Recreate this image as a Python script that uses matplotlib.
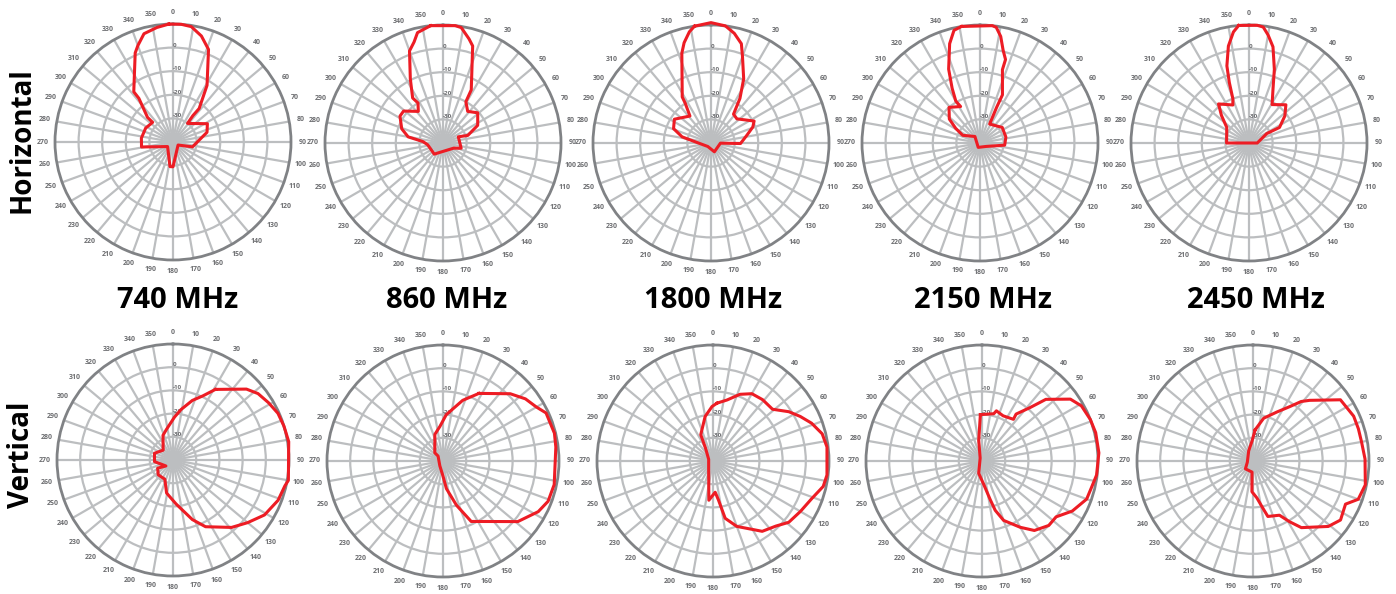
import numpy as np, matplotlib; matplotlib.use("Agg")
import matplotlib.pyplot as plt

plt.rcParams['font.family'] = ['Open Sans', 'DejaVu Sans']

freqs = ["740 MHz", "860 MHz", "1800 MHz", "2150 MHz", "2450 MHz"]
rows = ["Horizontal", "Vertical"]

# horizontal plane patterns: angle (deg, clockwise from top), normalised radius
h740_th = [358, 4, 9, 15, 21, 31, 38, 37, 38, 62, 74, 104, 121, 180, 187, 230, 261, 277, 297, 314, 314, 322, 322, 337, 340, 345, 352]
h740_r = [1.0, 1.0, 0.99, 0.93, 0.84, 0.56, 0.36, 0.28, 0.20, 0.33, 0.30, 0.17, 0.05, 0.21, 0.21, 0.06, 0.27, 0.27, 0.26, 0.24, 0.30, 0.47, 0.54, 0.82, 0.87, 0.95, 0.98]
h860_th = [354, 6, 9, 14, 17, 28, 29, 38, 49, 63, 73, 68, 106, 116, 210, 218, 263, 274, 280, 289, 302, 309, 322, 328, 326, 333, 340, 344, 347]
h860_r = [1.0, 1.0, 0.99, 0.91, 0.86, 0.51, 0.40, 0.34, 0.39, 0.33, 0.22, 0.14, 0.16, 0.10, 0.10, 0.12, 0.13, 0.17, 0.30, 0.37, 0.43, 0.43, 0.34, 0.40, 0.46, 0.61, 0.83, 0.89, 0.96]
h1800_th = [352, 0, 7, 12, 17, 20, 27, 33, 38, 47, 63, 69, 78, 91, 91, 159, 222, 275, 282, 291, 303, 322, 327, 328, 342, 345, 349]
h1800_r = [1.0, 1.02, 1.0, 0.95, 0.88, 0.78, 0.61, 0.45, 0.31, 0.30, 0.41, 0.38, 0.31, 0.25, 0.08, 0.08, 0.04, 0.14, 0.25, 0.34, 0.37, 0.29, 0.40, 0.46, 0.80, 0.88, 0.96]
h2150_th = [351, 6, 8, 11, 14, 17, 17, 25, 25, 27, 55, 77, 95, 119, 202, 322, 294, 301, 308, 319, 332, 330, 333, 337, 343, 347]
h2150_r = [1.0, 1.0, 0.99, 0.92, 0.81, 0.74, 0.65, 0.45, 0.33, 0.18, 0.23, 0.225, 0.21, 0.06, 0.04, 0.07, 0.16, 0.24, 0.33, 0.40, 0.35, 0.41, 0.52, 0.68, 0.88, 0.98]
h2450_th = [355, 4, 7, 10, 14, 19, 24, 31, 44, 53, 63, 62, 90, 270, 305, 315, 322, 337, 340, 342, 344, 348, 352]
h2450_r = [1.0, 1.0, 0.99, 0.93, 0.84, 0.66, 0.50, 0.38, 0.45, 0.38, 0.29, 0.17, 0.07, 0.19, 0.23, 0.33, 0.42, 0.35, 0.40, 0.54, 0.68, 0.84, 0.95]

# vertical plane patterns
v740_th = [31, 46, 52, 59, 66, 73, 81, 100, 103, 111, 121, 130, 139, 154, 162, 176, 191, 203, 225, 242, 230, 265, 290, 315, 338, 348, 2, 9, 18, 25]
v740_r = [0.71, 0.88, 0.93, 0.96, 0.99, 1.0, 1.01, 1.01, 0.99, 0.97, 0.92, 0.84, 0.77, 0.64, 0.54, 0.38, 0.29, 0.18, 0.18, 0.15, 0.08, 0.16, 0.17, 0.12, 0.23, 0.27, 0.37, 0.44, 0.54, 0.61]
v860_th = [28, 45, 53, 60, 65, 76, 83, 102, 111, 118, 129, 155, 163, 173, 180, 213, 315, 315, 343, 355, 4, 18]
v860_r = [0.66, 0.82, 0.89, 0.93, 0.98, 0.99, 0.98, 0.98, 0.97, 0.93, 0.83, 0.575, 0.40, 0.24, 0.13, 0.05, 0.06, 0.10, 0.24, 0.30, 0.40, 0.55]
v1800_th = [4, 13, 22, 30, 39, 49, 57, 63, 69, 76, 83, 97, 103, 111, 120, 129, 136, 145, 160, 168, 172, 176, 186, 208, 291, 330, 335, 350, 359]
v1800_r = [0.50, 0.54, 0.62, 0.67, 0.68, 0.68, 0.78, 0.845, 0.91, 0.97, 0.99, 0.99, 0.975, 0.91, 0.87, 0.84, 0.78, 0.74, 0.60, 0.505, 0.34, 0.27, 0.34, 0.08, 0.04, 0.13, 0.25, 0.39, 0.47]
v2150_th = [358, 14, 16, 25, 37, 36, 42, 46, 55, 61, 69, 76, 86, 97, 104, 110, 119, 127, 134, 143, 150, 160, 165, 168, 176, 195, 328, 351]
v2150_r = [0.40, 0.42, 0.45, 0.43, 0.45, 0.50, 0.62, 0.765, 0.93, 0.98, 1.0, 1.01, 1.01, 0.995, 0.97, 0.96, 0.89, 0.80, 0.80, 0.75, 0.66, 0.545, 0.44, 0.34, 0.20, 0.11, 0.03, 0.18]
v2450_th = [4, 14, 26, 34, 39, 43, 55, 62, 66, 73, 80, 89, 102, 110, 115, 124, 131, 144, 149, 154, 165, 168, 174, 182, 185, 224, 258, 337, 357]
v2450_r = [0.27, 0.38, 0.47, 0.565, 0.66, 0.715, 0.92, 0.935, 0.95, 0.95, 0.95, 0.966, 0.99, 0.965, 0.88, 0.91, 0.86, 0.71, 0.61, 0.52, 0.495, 0.42, 0.32, 0.265, 0.096, 0.094, 0.05, 0.095, 0.17]

patterns = [[(h740_th, h740_r), (h860_th, h860_r), (h1800_th, h1800_r), (h2150_th, h2150_r), (h2450_th, h2450_r)],
            [(v740_th, v740_r), (v860_th, v860_r), (v1800_th, v1800_r), (v2150_th, v2150_r), (v2450_th, v2450_r)]]

W, H = 1396, 594
fig = plt.figure(figsize=(W/100, H/100), dpi=100)
centres = [[(173, 142), (443, 143), (711, 143), (980, 143), (1249, 143)],
           [(173, 460), (443, 461), (713, 461), (982, 461), (1253, 461)]]
radius = [118, 116]
grid_c = "#bcbec0"; edge_c = "#808285"; lab_c = "#6d6e71"; red = "#ed1c24"

for i in range(2):
    R = radius[i]
    for j in range(5):
        cx, cy = centres[i][j]
        ax = fig.add_axes([(cx-R)/W, 1-(cy+R)/H, 2*R/W, 2*R/H], projection="polar")
        ax.set_theta_zero_location("N"); ax.set_theta_direction(-1)
        ax.set_ylim(0, 1)
        ax.set_thetagrids(np.arange(0, 360, 10), [str(a) for a in range(0, 360, 10)],
                          fontsize=5, fontweight="bold", color=lab_c)
        ax.tick_params(axis="x", pad=-2)
        ax.set_rgrids([0.2, 0.4, 0.6, 0.8], ["-30", "-20", "-10", "0"], angle=0,
                      fontsize=4.5, fontweight="bold", color=lab_c)
        ax.grid(True, color=grid_c, lw=1.6)
        ax.spines["polar"].set_color(edge_c); ax.spines["polar"].set_linewidth(2)
        th, r = patterns[i][j]
        th = np.deg2rad(list(th) + [th[0]]); r = list(r) + [r[0]]
        ax.plot(th, r, color=red, lw=2.2, clip_on=False, zorder=5)

for j, f in enumerate(freqs):
    fig.text([178, 447, 713, 983, 1256][j]/W, 1-301/H, f, ha="center", va="center",
             fontsize=21, fontweight="bold")
fig.text(22/W, 1-140/H, rows[0], rotation=90, ha="center", va="center", fontsize=20, fontweight="bold")
fig.text(22/W, 1-455/H, rows[1], rotation=90, ha="center", va="center", fontsize=20, fontweight="bold")

fig.savefig("out.png", dpi=100)
